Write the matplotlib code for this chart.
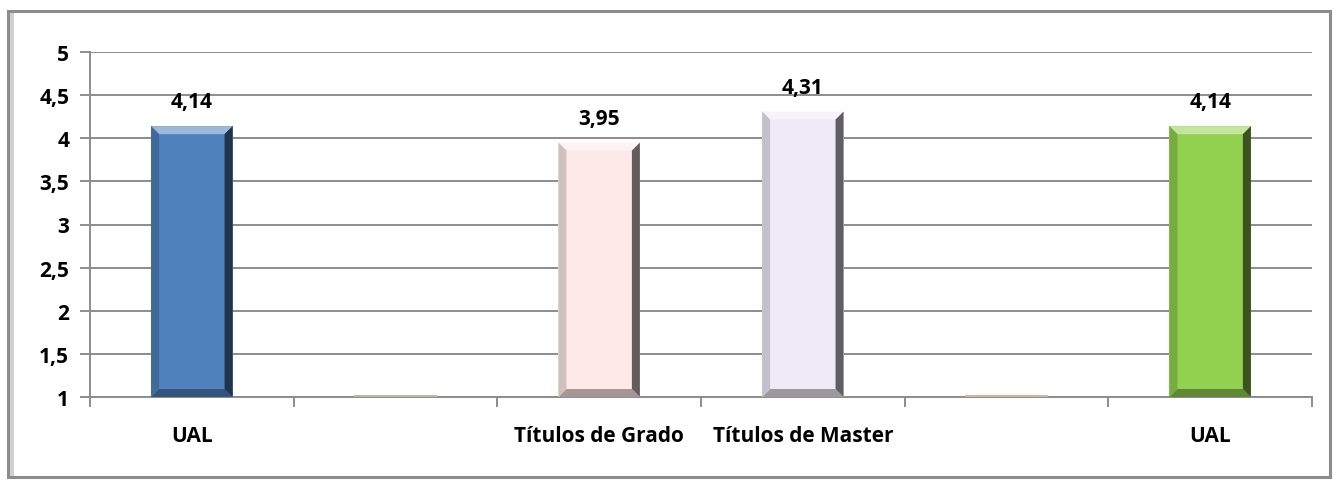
import matplotlib
matplotlib.use("Agg")
import matplotlib.pyplot as plt
from matplotlib.patches import Rectangle, Polygon
from matplotlib.colors import to_rgb

plt.rcParams['font.family'] = ['Open Sans', 'DejaVu Sans']
plt.rcParams['font.weight'] = 'bold'

# datos
categorias = ["UAL", "", "Títulos de Grado", "Títulos de Master", "", "UAL"]
valores = [4.14, 1.01, 3.95, 4.31, 1.01, 4.14]
etiquetas = ["4,14", "", "3,95", "4,31", "", "4,14"]
colores = ["#4f81bd", "#ddd9c3", "#fde9e7", "#eeeaf7", "#fbd4b4", "#92d050"]
yticks = [1, 1.5, 2, 2.5, 3, 3.5, 4, 4.5, 5]
ytick_labels = ["1", "1,5", "2", "2,5", "3", "3,5", "4", "4,5", "5"]


def mezcla(c, otro, t):
    c = to_rgb(c)
    o = to_rgb(otro)
    return tuple(c[i] * (1 - t) + o[i] * t for i in range(3))


fig = plt.figure(figsize=(13.33, 4.81), dpi=100)
W, H = 1333, 481

# marco exterior con sombra
fig.patches.append(Rectangle((8 / W, 3 / H), 1322 / W, 466 / H, transform=fig.transFigure,
                             facecolor="white", edgecolor="#8c8c8c", lw=2.2, zorder=-5))
fig.patches.append(Rectangle((10 / W, 4 / H), 4 / W, 463 / H, transform=fig.transFigure,
                             facecolor="#d0d0d0", edgecolor="none", zorder=-4))

ax = fig.add_axes([90 / W, 1 - 398 / H, 1222 / W, 345 / H])
ax.set_facecolor("none")

x = list(range(len(categorias)))
ancho = 0.4
ax.set_xlim(-0.5, len(categorias) - 0.5)
ax.set_ylim(1, 5)

bars = ax.bar(x, [v - 1 for v in valores], bottom=1, width=ancho, color=colores,
              edgecolor="none", zorder=3)

# efecto biselado
px_x = 1222 / len(categorias)
px_y = 345 / 4
bx = 8 / px_x
by = 8 / px_y
for b, c in zip(bars, colores):
    x0, y0 = b.get_x(), b.get_y()
    x1, y1 = x0 + b.get_width(), y0 + b.get_height()
    if b.get_height() < 0.05:
        ax.plot([x0, x1], [y1, y1], color=mezcla(c, "black", 0.15), lw=1.5, zorder=4)
        continue
    caras = [
        ([(x0, y1), (x1, y1), (x1 - bx, y1 - by), (x0 + bx, y1 - by)], mezcla(c, "white", 0.45)),
        ([(x0, y0), (x1, y0), (x1 - bx, y0 + by), (x0 + bx, y0 + by)], mezcla(c, "black", 0.35)),
        ([(x0, y0), (x0, y1), (x0 + bx, y1 - by), (x0 + bx, y0 + by)], mezcla(c, "black", 0.18)),
        ([(x1, y0), (x1, y1), (x1 - bx, y1 - by), (x1 - bx, y0 + by)], mezcla(c, "black", 0.6)),
    ]
    for pts, col in caras:
        ax.add_patch(Polygon(pts, closed=True, facecolor=col, edgecolor="none", zorder=4))

for xi, v, t in zip(x, valores, etiquetas):
    if t:
        ax.annotate(t, (xi, v), xytext=(0, 10), textcoords="offset points",
                    ha="center", va="bottom", fontsize=15, fontweight="bold", color="black")

ax.set_yticks(yticks)
ax.set_yticklabels(ytick_labels)
ax.yaxis.grid(True, color="#8c8c8c", lw=1.4, zorder=0)
ax.set_axisbelow(True)

ax.set_xticks([i - 0.5 for i in range(len(categorias) + 1)])
ax.set_xticklabels([])
ax.set_xticks(x, minor=True)
ax.set_xticklabels(categorias, minor=True)
ax.tick_params(axis="x", which="minor", length=0, pad=20, labelsize=15)
ax.tick_params(axis="x", which="major", length=7, color="#8c8c8c", width=1.4)
ax.tick_params(axis="y", length=7, color="#8c8c8c", width=1.4, labelsize=15, pad=8)

for s in ["top", "right"]:
    ax.spines[s].set_visible(False)
for s in ["left", "bottom"]:
    ax.spines[s].set_color("#8c8c8c")
    ax.spines[s].set_linewidth(1.4)

for lab in ax.get_xticklabels(minor=True) + ax.get_yticklabels():
    lab.set_fontweight("bold")

fig.savefig("out.png", dpi=100)
